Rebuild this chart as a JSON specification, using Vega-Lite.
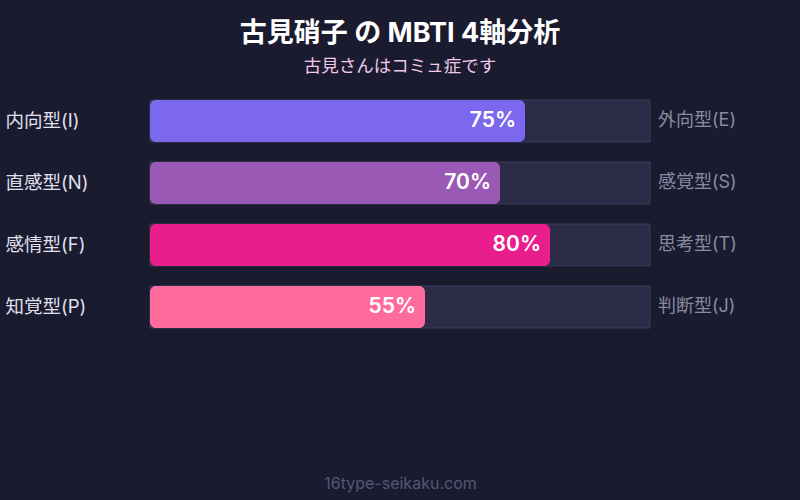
{
  "$schema": "https://vega.github.io/schema/vega-lite/v6.json",
  "width": 500,
  "height": 228,
  "autosize": {"type": "none"},
  "padding": {"left": 150, "top": 100, "right": 150, "bottom": 172},
  "background": "#1a1b2e",
  "config": {"view": {"stroke": null}, "font": "Inter, Noto Sans CJK JP"},
  "title": {
    "text": "古見硝子 の MBTI 4軸分析",
    "subtitle": "古見さんはコミュ症です",
    "anchor": "middle",
    "fontSize": 27,
    "fontWeight": "bold",
    "color": "#ffffff",
    "subtitleFontSize": 17.5,
    "subtitleColor": "#f0c8ec",
    "subtitlePadding": 10,
    "offset": 23,
    "font": "Inter, Noto Sans CJK JP",
    "subtitleFont": "Inter, Noto Sans CJK JP"
  },
  "data": {
    "values": [
      {"left": "内向型(I)", "right": "外向型(E)", "value": 75, "color": "I"},
      {"left": "直感型(N)", "right": "感覚型(S)", "value": 70, "color": "N"},
      {"left": "感情型(F)", "right": "思考型(T)", "value": 80, "color": "F"},
      {"left": "知覚型(P)", "right": "判断型(J)", "value": 55, "color": "P"}
    ]
  },
  "encoding": {
    "y": {
      "field": "left",
      "type": "nominal",
      "sort": null,
      "scale": {"paddingInner": 0.3226, "paddingOuter": 0},
      "axis": {
        "title": null,
        "domain": false,
        "ticks": false,
        "labelAlign": "left",
        "labelPadding": 145,
        "labelFontSize": 18.5,
        "labelColor": "#e0e0f0",
        "labelFont": "Inter, Noto Sans CJK JP"
      }
    }
  },
  "layer": [
    {
      "mark": {"type": "bar", "color": "#2c2b48", "stroke": "#3c3c5c", "strokeWidth": 1},
      "encoding": {
        "x": {"datum": 100, "type": "quantitative", "scale": {"domain": [0, 100]},
          "axis": {"title": "16type-seikaku.com", "labels": false, "ticks": false, "domain": false, "grid": false,
            "titleFontSize": 16, "titleFontWeight": "normal", "titleColor": "#555578", "titlePadding": 147, "titleFont": "Inter"}}
      }
    },
    {
      "mark": {"type": "bar", "cornerRadius": 6},
      "encoding": {
        "x": {"field": "value", "type": "quantitative"},
        "color": {
          "field": "color",
          "type": "nominal",
          "scale": {"domain": ["I", "N", "F", "P"], "range": ["#7b68ee", "#9b59b6", "#e91e8c", "#ff6b9d"]},
          "legend": null
        }
      }
    },
    {
      "mark": {"type": "text", "align": "right", "dx": -9, "fontSize": 21, "fontWeight": 600, "color": "#ffffff", "font": "Inter", "text": {"expr": "datum.value + '%'"}},
      "encoding": {
        "x": {"field": "value", "type": "quantitative"}
      }
    },
    {
      "mark": {"type": "text", "align": "left", "dx": 8, "fontSize": 18, "color": "#8a8aa2", "font": "Inter, Noto Sans CJK JP"},
      "encoding": {
        "x": {"datum": 100, "type": "quantitative"},
        "text": {"field": "right"}
      }
    }
  ]
}
